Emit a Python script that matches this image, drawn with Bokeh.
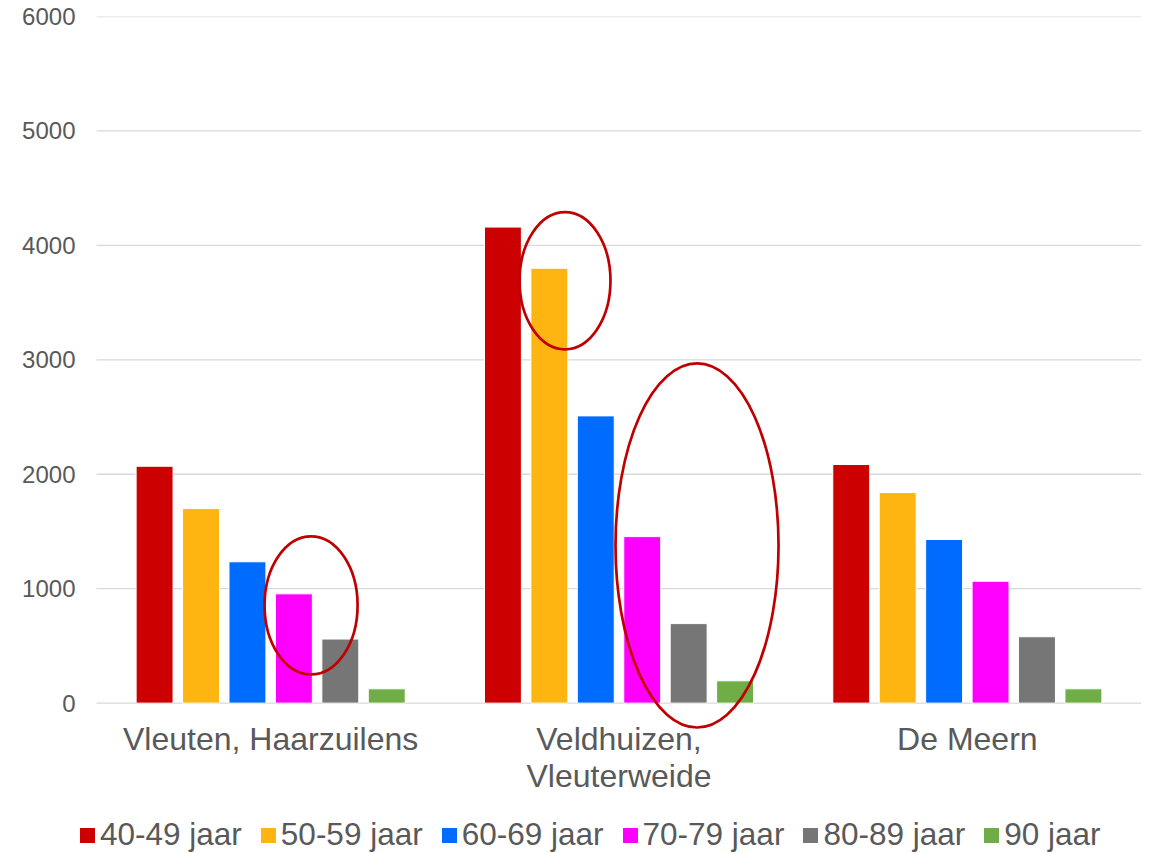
from bokeh.plotting import figure
from bokeh.models import FixedTicker, Legend, LegendItem, Range1d
from bokeh.core.properties import value
from bokeh.embed import file_html
from bokeh.resources import INLINE

# ---- data ----
regions = ["Vleuten, Haarzuilens", "Veldhuizen,\nVleuterweide", "De Meern"]
age_groups = ["40-49 jaar", "50-59 jaar", "60-69 jaar", "70-79 jaar", "80-89 jaar", "90 jaar"]
v_40_49 = [2070, 4160, 2085]
v_50_59 = [1700, 3800, 1840]
v_60_69 = [1235, 2510, 1430]
v_70_79 = [955, 1455, 1065]
v_80_89 = [560, 695, 580]
v_90 = [125, 195, 125]
y_ticks = [0, 1000, 2000, 3000, 4000, 5000, 6000]

# annotation ellipses (red circles drawn on the chart)
ellipse_x = [0.616, 1.345, 1.724]
ellipse_y = [854, 3691, 1378]
ellipse_w = [0.267, 0.261, 0.468]
ellipse_h = [1206, 1198, 3182]

# ---- styles ----
colors = ["#CC0000", "#FFB511", "#006CFF", "#FF00FF", "#767676", "#70AD47"]
TEXT = "#595959"
FONT = "Liberation Sans"
STEP = 0.1333
BAR_W = 0.106
LABEL_Y = -160   # top of the category labels (below the zero line)

series = [v_40_49, v_50_59, v_60_69, v_70_79, v_80_89, v_90]
n_groups = len(regions)
centers = [i + 0.5 for i in range(n_groups)]

p = figure(width=1152, height=853, x_range=Range1d(-0.05455, n_groups),
           y_range=Range1d(-1314, 6000),
           output_backend="svg", toolbar_location=None, x_axis_location=None,
           min_border_left=77, min_border_right=11, min_border_top=16, min_border_bottom=0)
p.outline_line_color = None
p.background_fill_color = "white"
p.border_fill_color = "white"

# horizontal grid lines spanning the plotting area of the groups
p.xgrid.visible = False
p.ygrid.visible = False
p.segment(x0=[0] * len(y_ticks), x1=[n_groups] * len(y_ticks), y0=y_ticks, y1=y_ticks,
          line_color="#D9D9D9", line_width=1.3)

items = []
for k, (name, vals) in enumerate(zip(age_groups, series)):
    xs = [c + (k - 2.5) * STEP for c in centers]
    r = p.vbar(x=xs, top=vals, bottom=0, width=BAR_W, fill_color=colors[k],
               line_color="white", line_width=1)
    items.append(LegendItem(label=name, renderers=[r]))

p.ellipse(x=ellipse_x, y=ellipse_y, width=ellipse_w, height=ellipse_h,
          fill_color=None, line_color="#C00000", line_width=2.7)

# category labels under the groups
p.text(x=centers, y=[LABEL_Y] * len(centers), text=regions,
       text_align="center", text_baseline="top",
       text_font=value(FONT), text_font_size="32px", text_color=TEXT,
       text_line_height=1.02)

# y axis
p.yaxis.ticker = FixedTicker(ticks=y_ticks)
p.yaxis.axis_line_color = None
p.yaxis.major_tick_line_color = None
p.yaxis.minor_tick_line_color = None
p.yaxis.major_label_text_font = FONT
p.yaxis.major_label_text_font_size = "24px"
p.yaxis.major_label_text_color = TEXT
p.yaxis.major_label_standoff = -4

legend = Legend(items=items, location=(0, 0), orientation="horizontal",
                glyph_width=20, glyph_height=20, label_standoff=3, spacing=16,
                padding=0, margin=0, border_line_color=None, background_fill_alpha=0,
                label_text_font=FONT, label_text_font_size="31.5px",
                label_text_color=TEXT, label_height=36)
p.add_layout(legend)

open("out.html", "w").write(file_html(p, INLINE))
